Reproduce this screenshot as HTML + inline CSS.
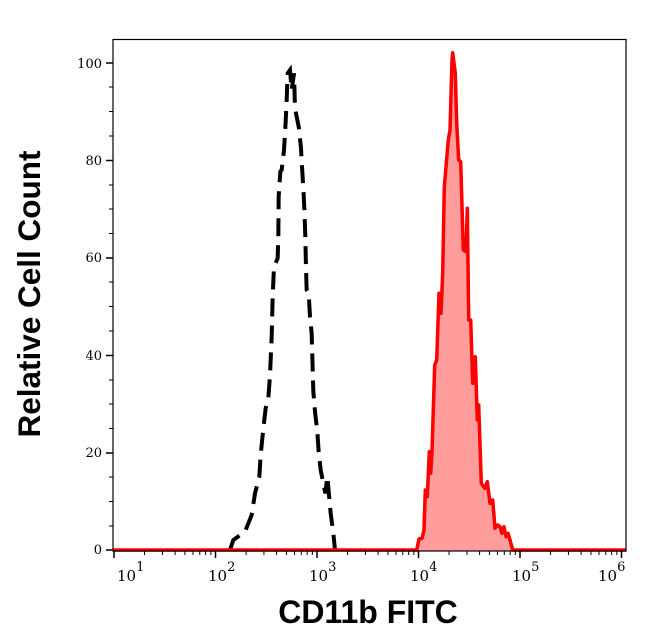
<!DOCTYPE html>
<html><head><meta charset="utf-8"><style>
html,body{margin:0;padding:0;background:#fff;}
svg{display:block;}
</style></head><body>
<svg width="646" height="641" viewBox="0 0 646 641" xmlns="http://www.w3.org/2000/svg">
<rect width="646" height="641" fill="#fff"/>
<polygon fill="#ff9c9c" stroke="none" points="416.7,551 419,539 422,538.3 424,530 425.3,490 427.3,496.7 429.3,451.7 430.7,473.3 432,451.7 434.7,365 436.7,360 439,293.3 441,313.3 442.7,273.3 444.3,186.7 448.3,140 450,130 452,60 452.7,52.7 455.3,73.3 456.7,123.3 458.7,160 460.7,161.7 463.3,250 466,251.7 467.3,208.3 468.7,320 470.7,320 472.7,383.3 475.3,356.7 477.3,420 478.7,405 481.3,483.3 484.7,488.3 487.3,481.7 490,503.3 492.7,500 495,528.3 497.7,525 500,526.7 502,533.3 504,526.7 506,536.7 508,533.3 510,540 512.7,551"/>
<g transform="translate(220,60) scale(0.33333)">
<polyline fill="none" stroke="#000" stroke-width="12" stroke-dasharray="54,27" points="30,1470 40,1440 75,1415 95,1365 105,1300 118,1250 122,1185 130,1105 137,1045 145,1015 150,945 155,830 158,710 162,620 173,595 175,525 176,410 181,335 185,330 192,270 197,185 200,120 203,40 210,30 215,90 222,40 225,145 237,205 243,265 246,320 250,385 253,445 256,530 258,625 260,690 266,700 270,770 275,820 280,995 285,1055 292,1115 296,1175 302,1230 316,1300 322,1250 332,1360 340,1420 345,1470"/>
</g>
<polyline fill="none" stroke="#ff0000" stroke-width="3.5" stroke-linejoin="round" points="113,550 416.7,550 419,539 422,538.3 424,530 425.3,490 427.3,496.7 429.3,451.7 430.7,473.3 432,451.7 434.7,365 436.7,360 439,293.3 441,313.3 442.7,273.3 444.3,186.7 448.3,140 450,130 452,60 452.7,52.7 455.3,73.3 456.7,123.3 458.7,160 460.7,161.7 463.3,250 466,251.7 467.3,208.3 468.7,320 470.7,320 472.7,383.3 475.3,356.7 477.3,420 478.7,405 481.3,483.3 484.7,488.3 487.3,481.7 490,503.3 492.7,500 495,528.3 497.7,525 500,526.7 502,533.3 504,526.7 506,536.7 508,533.3 510,540 512.7,550 626,550"/>
<rect x="113" y="39.5" width="513" height="511.5" fill="none" stroke="#000" stroke-width="1.2"/>
<g stroke="#000" stroke-width="1.5">
<line x1="106" y1="550" x2="113" y2="550"/><line x1="106" y1="453" x2="113" y2="453"/><line x1="106" y1="355.5" x2="113" y2="355.5"/><line x1="106" y1="258" x2="113" y2="258"/><line x1="106" y1="160.5" x2="113" y2="160.5"/><line x1="106" y1="63" x2="113" y2="63"/>
</g>
<g stroke="#000" stroke-width="1">
<line x1="109" y1="526" x2="113" y2="526"/><line x1="109" y1="501.5" x2="113" y2="501.5"/><line x1="109" y1="477" x2="113" y2="477"/>
<line x1="109" y1="428.5" x2="113" y2="428.5"/><line x1="109" y1="404" x2="113" y2="404"/><line x1="109" y1="380" x2="113" y2="380"/>
<line x1="109" y1="331" x2="113" y2="331"/><line x1="109" y1="306.5" x2="113" y2="306.5"/><line x1="109" y1="282" x2="113" y2="282"/>
<line x1="109" y1="233.5" x2="113" y2="233.5"/><line x1="109" y1="209" x2="113" y2="209"/><line x1="109" y1="185" x2="113" y2="185"/>
<line x1="109" y1="136" x2="113" y2="136"/><line x1="109" y1="111.5" x2="113" y2="111.5"/><line x1="109" y1="87" x2="113" y2="87"/>
</g>
<g font-family="'DejaVu Serif','Liberation Serif',serif" font-size="13" fill="#000" text-anchor="end">
<text x="102" y="554">0</text><text x="102" y="457">20</text><text x="102" y="360">40</text><text x="102" y="262">60</text><text x="102" y="165">80</text><text x="102" y="68">100</text>
</g>
<g stroke="#000" id="xt"></g>
<g font-family="'DejaVu Serif','Liberation Serif',serif" fill="#000">
<text x="117" y="581" font-size="15">10<tspan dy="-10" font-size="13">1</tspan></text>
<text x="208" y="581" font-size="15">10<tspan dy="-10" font-size="13">2</tspan></text>
<text x="309" y="581" font-size="15">10<tspan dy="-10" font-size="13">3</tspan></text>
<text x="410" y="581" font-size="15">10<tspan dy="-10" font-size="13">4</tspan></text>
<text x="512" y="581" font-size="15">10<tspan dy="-10" font-size="13">5</tspan></text>
<text x="598" y="581" font-size="15">10<tspan dy="-10" font-size="13">6</tspan></text>
</g>
<text x="368" y="623" text-anchor="middle" font-family="'Liberation Sans',sans-serif" font-weight="bold" font-size="32" fill="#000">CD11b FITC</text>
<text transform="translate(40,294) rotate(-90)" text-anchor="middle" font-family="'Liberation Sans',sans-serif" font-weight="bold" font-size="31.5" fill="#000">Relative Cell Count</text>
<script>
(function(){var g=document.getElementById('xt');var ns='http://www.w3.org/2000/svg';
function L(x,l,w){var e=document.createElementNS(ns,'line');e.setAttribute('x1',x);e.setAttribute('x2',x);e.setAttribute('y1',551);e.setAttribute('y2',551+l);e.setAttribute('stroke-width',w);g.appendChild(e);}
for(var d=1;d<=6;d++){var x0=114+101.5*(d-1);L(x0,7,1.5);if(d<6)for(var k=2;k<=9;k++)L(x0+101.5*Math.log10(k),4,1);}})();
</script>
</svg>
</body></html>
